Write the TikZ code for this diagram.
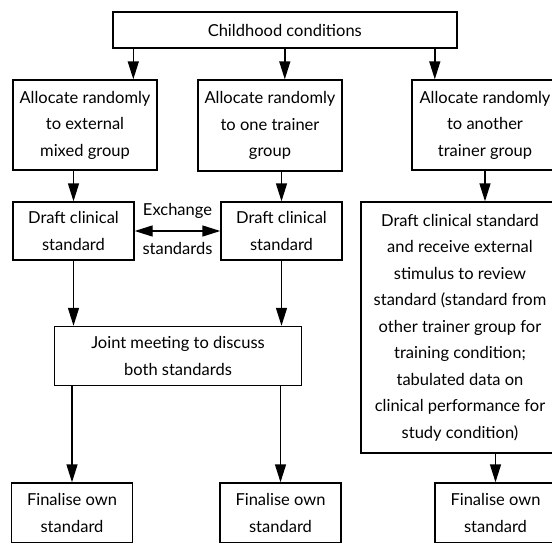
\documentclass[tikz,border=0pt]{standalone}
\usepackage{fontspec}
\setmainfont{Lato}
\usetikzlibrary{
        arrows.meta,
        positioning
    }
\tikzset{>={Triangle[length=18pt,width=11pt]},shorten >=0pt}
\tikzset{
  stage/.style={draw,line width=1.4pt,align=center,inner sep=0pt,
    font=\fontsize{16.5}{26.5}\selectfont},
  flow/.style={->,line width=1.4pt},
  tag/.style={font=\fontsize{16.5}{26.5}\selectfont}
}

\begin{document}
\begin{tikzpicture}[x=1pt,y=-1pt]
                    \useasboundingbox (0,0) rectangle (552,542);
                    % top box
                    \node[stage,minimum width=344pt,minimum height=36pt] (child) at (284.8,30) {Childhood conditions};
                    % allocation row
                    \node[stage,minimum width=144pt,minimum height=90pt] (alloc1) at (85,125) {Allocate randomly\\ to external\\ mixed group};
                    \node[stage,minimum width=144pt,minimum height=91pt] (alloc2) at (270,125.5) {Allocate randomly\\ to one trainer\\ group};
                    \node[stage,minimum width=146pt,minimum height=90pt] (alloc3) at (485,125) {Allocate randomly\\ to another\\ trainer group};
                    % drafting row
                    \node[stage,minimum width=121pt,minimum height=58pt] (draft1) at (73.5,231) {Draft clinical\\ standard};
                    \node[stage,minimum width=121pt,minimum height=58pt] (draft2) at (281.5,231) {Draft clinical\\ standard};
                    \node[stage,minimum width=198pt,minimum height=251pt] (draft3) at (460,327.5) {Draft clinical standard\\
                        and receive external\\
                        stimulus to review\\
                        standard (standard from\\
                        other trainer group for\\
                        training condition;\\
                        tabulated data on\\
                        clinical performance for\\
                        study condition)};
                    % meeting
                    \node[stage,minimum width=247pt,minimum height=59pt] (joint) at (178,356) {Joint meeting to discuss\\ both standards};
                    % final row
                    \node[stage,minimum width=121pt,minimum height=60pt] (final1) at (72,513) {Finalise own\\ standard};
                    \node[stage,minimum width=121pt,minimum height=60pt] (final2) at (280.5,513) {Finalise own\\ standard};
                    \node[stage,minimum width=121pt,minimum height=60pt] (final3) at (495.5,513) {Finalise own\\ standard};

                    \coordinate (tapL) at ([xshift=-151.5pt]child.south);
                    \coordinate (tapR) at ([xshift=150pt]child.south);
                    \draw[flow] (tapL) -- (tapL |- alloc1.north);
                    \draw[flow] (child.south) -- (child.south |- alloc2.north);
                    \draw[flow] (tapR) -- (tapR |- alloc3.north);

                    \draw[flow] (alloc1.south -| draft1.north) -- (draft1.north);
                    \draw[flow] (alloc2.south -| draft2.north) -- (draft2.north);
                    \draw[flow] (alloc3.south) -- (alloc3.south |- draft3.north);

                    \draw[flow,<->] (draft1.east) -- (draft2.west)
                        node[tag,midway,above=8pt] {Exchange}
                        node[tag,midway,below=7pt] {standards};

                    \draw[flow] (draft1.south) -- (draft1.south |- joint.north);
                    \draw[flow] (draft2.south) -- (draft2.south |- joint.north);

                    \draw[flow] (joint.south -| final1.north) -- (final1.north);
                    \draw[flow] (joint.south -| final2.north) -- (final2.north);
                    \draw[flow] (draft3.south -| final3.north) -- (final3.north);
                \end{tikzpicture}
\end{document}
